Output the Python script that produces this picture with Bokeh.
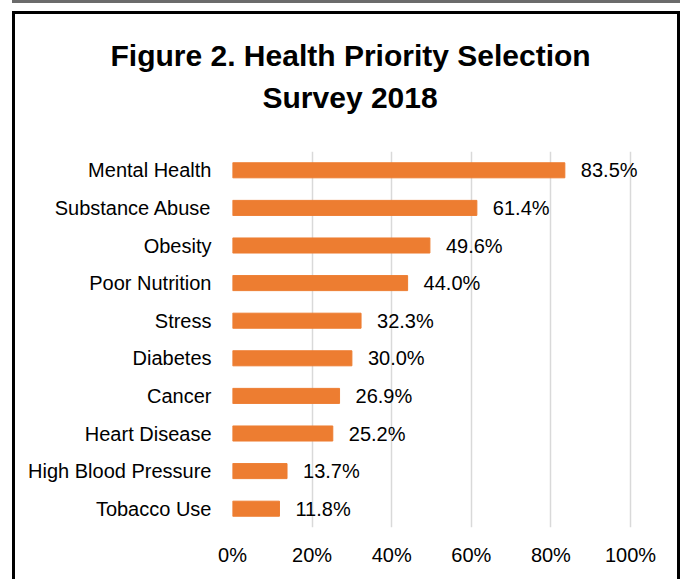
from bokeh.plotting import figure
from bokeh.models import ColumnDataSource, FactorRange, Range1d, FixedTicker, PrintfTickFormatter, Title
from bokeh.core.properties import value
from bokeh.embed import file_html
from bokeh.resources import INLINE

categories = ["Mental Health", "Substance Abuse", "Obesity", "Poor Nutrition", "Stress",
              "Diabetes", "Cancer", "Heart Disease", "High Blood Pressure", "Tobacco Use"]
percentages = [83.5, 61.4, 49.6, 44.0, 32.3, 30.0, 26.9, 25.2, 13.7, 11.8]
x_ticks = [0, 20, 40, 60, 80, 100]
title_lines = ["Figure 2. Health Priority Selection", "Survey 2018"]

FONT = "Liberation Sans"
BAR = "#ED7D31"

# layout (pixels)
W, H = 668, 568
BL, BT, BB = 217, 137, 55
plot_px = 398                 # width of 0..100 %
frame_px = W - BL             # frame runs to right edge so data labels are not clipped
x_end = 100.0 * frame_px / plot_px

src = ColumnDataSource(dict(cat=categories, pct=percentages,
                            lbl=[f"{v:.1f}%" for v in percentages]))

p = figure(width=W, height=H,
           y_range=FactorRange(factors=categories[::-1]),
           x_range=Range1d(0, x_end),
           output_backend="svg", toolbar_location=None,
           min_border_left=BL, min_border_right=0,
           min_border_top=BT, min_border_bottom=BB)

p.hbar(y="cat", left=0, right="pct", height=0.4, color=BAR, source=src)
p.text(x="pct", y="cat", text="lbl", x_offset=16, text_baseline="middle",
       text_align="left", text_font=value(FONT), text_font_size="20px",
       text_color="#000000", source=src)

p.outline_line_color = None
p.ygrid.visible = False
p.xgrid.ticker = FixedTicker(ticks=x_ticks)
p.xgrid.grid_line_color = "#d9d9d9"
p.xgrid.grid_line_width = 1.5

p.xaxis.ticker = FixedTicker(ticks=x_ticks)
p.xaxis.formatter = PrintfTickFormatter(format="%d%%")
for ax in (p.xaxis[0], p.yaxis[0]):
    ax.axis_line_color = None
    ax.major_tick_line_color = None
    ax.minor_tick_line_color = None
    ax.major_tick_in = 0
    ax.major_tick_out = 0
    ax.major_label_text_font = FONT
    ax.major_label_text_font_size = "20px"
    ax.major_label_text_color = "#000000"
p.yaxis.major_label_standoff = 21
p.xaxis.major_label_standoff = 16

# titles: left aligned with pixel offsets so each line is centred on x~350 of the page
title_offsets = [-122, 30]     # line 1, line 2 (relative to frame left)
title_standoffs = [-61, 75]
for txt, off, sd in list(zip(title_lines, title_offsets, title_standoffs))[::-1]:
    p.add_layout(Title(text=txt, align="left", offset=off,
                       standoff=sd, text_font=FONT, text_font_style="bold",
                       text_font_size="30px", text_color="#000000"), "above")

p.styles = {"margin-left": "12px", "margin-top": "11px",
            "box-sizing": "border-box",
            "border-left": "3px solid #000", "border-top": "3px solid #000",
            "border-right": "3px solid #000",
            "box-shadow": "0 -8px 0 0 #ffffff, 0 -11px 0 0 #6b6b6b"}

open("out.html", "w").write(file_html(p, INLINE))
